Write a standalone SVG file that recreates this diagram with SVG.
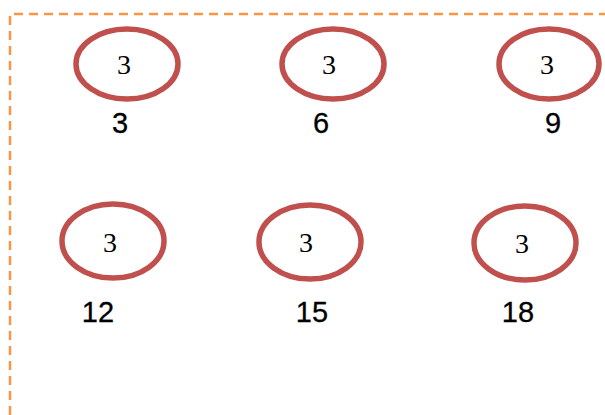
<svg xmlns="http://www.w3.org/2000/svg" width="605" height="415" viewBox="0 0 605 415">
<style>
.frame{fill:none;stroke:#F79646;stroke-width:2.5;stroke-dasharray:9 6}
.ring{fill:#ffffff;stroke:#C0504D;stroke-width:5.5}
.inner{font-family:"Liberation Serif","Times New Roman",serif;font-size:28px;fill:#000;text-anchor:middle}
.lbl{font-family:"Liberation Sans",Arial,sans-serif;font-size:29px;fill:#000;stroke:#000;stroke-width:0.3;text-anchor:middle}
</style>
<rect width="605" height="415" fill="#ffffff"/>
<g id="connectors">
<path class="frame" d="M10,415 V14 H605"/>
</g>
<g id="n1"><ellipse class="ring" cx="127" cy="64" rx="51" ry="35"/><text class="inner" x="124" y="74">3</text><text class="lbl" x="120" y="133">3</text></g>
<g id="n2"><ellipse class="ring" cx="333" cy="64" rx="51" ry="35"/><text class="inner" x="329" y="74">3</text><text class="lbl" x="321" y="133">6</text></g>
<g id="n3"><ellipse class="ring" cx="549" cy="64" rx="50" ry="35"/><text class="inner" x="547" y="74">3</text><text class="lbl" x="553" y="133">9</text></g>
<g id="n4"><ellipse class="ring" cx="113" cy="241" rx="51" ry="37"/><text class="inner" x="110" y="252">3</text><text class="lbl" x="98" y="322">12</text></g>
<g id="n5"><ellipse class="ring" cx="310" cy="242" rx="51" ry="37"/><text class="inner" x="306" y="252">3</text><text class="lbl" x="312" y="322">15</text></g>
<g id="n6"><ellipse class="ring" cx="525" cy="243" rx="51" ry="37"/><text class="inner" x="522" y="253">3</text><text class="lbl" x="518" y="322">18</text></g>
</svg>
